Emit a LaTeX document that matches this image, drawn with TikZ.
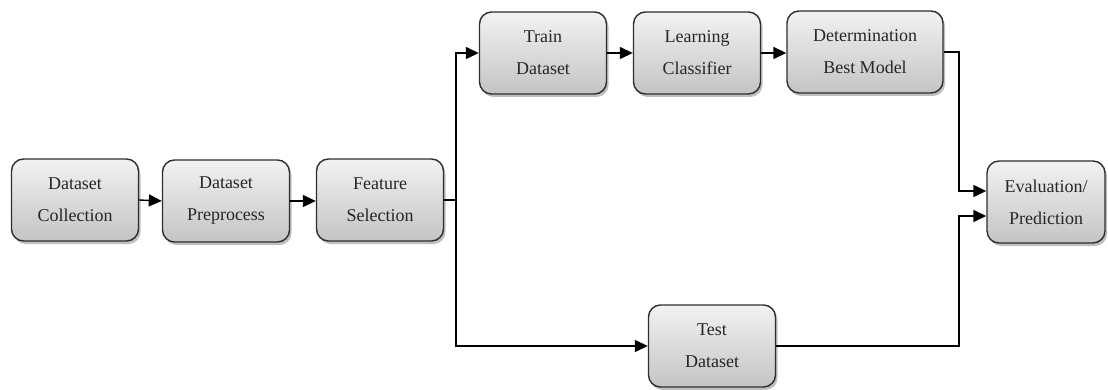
\documentclass[tikz,border=0pt]{standalone}
\usepackage{fontspec}
\setmainfont{Liberation Serif}
\usetikzlibrary{arrows.meta,shadows,calc}
\definecolor{boxedge}{HTML}{2E2E2E}
\definecolor{boxtop}{HTML}{F2F2F2}
\definecolor{boxbot}{HTML}{C4C4C4}
\tikzset{
  procbox/.style={draw=boxedge, line width=1.4pt, rounded corners=12pt,
    top color=boxtop, bottom color=boxbot,
    minimum width=127pt, minimum height=82pt, inner sep=2pt,
    align=center, font=\fontsize{18}{32}\selectfont, text=black!85,
    drop shadow={shadow xshift=2pt, shadow yshift=-3pt, opacity=0.25, fill=black}},
  arr/.style={line width=1.4pt, draw=black, -{Triangle[length=13pt,width=12pt]}},
  ln/.style={line width=1.4pt, draw=black}
}
\begin{document}
\begin{tikzpicture}[x=1pt,y=-1pt]
\useasboundingbox (0,0) rectangle (1108,390);
\node[procbox] (col) at (75,200) {Dataset\\Collection};
\node[procbox] (pre) at (226,201) {Dataset\\Preprocess};
\node[procbox] (fs) at (380,200) {Feature\\Selection};
\node[procbox] (train) at (543,53) {Train\\Dataset};
\node[procbox] (lc) at (697,53) {Learning\\Classifier};
\node[procbox, minimum width=156pt] (det) at (865,52) {Determination\\Best Model};
\node[procbox, minimum width=118pt] (eval) at (1046,202) {Evaluation/\\Prediction};
\node[procbox] (test) at (712,346) {Test\\Dataset};
\coordinate (split) at (456,200);
\coordinate (j1) at (959,191);
\coordinate (j2) at (959,216);
\coordinate (e1) at ($(eval.west)+(0,-11)$);
\coordinate (e2) at ($(eval.west)+(0,14)$);
\draw[arr] (col.east) -- (pre.west);
\draw[arr] (pre.east) -- (pre.east -| fs.west);
\draw[ln] (fs.east) -- (split);
\draw[arr] (split) |- (train.west);
\draw[arr] (split) |- (test.west);
\draw[arr] (train.east) -- (lc.west);
\draw[arr] (lc.east) -- (lc.east -| det.west);
\draw[arr] (det.east) -| (j1) -- (e1);
\draw[arr] (test.east) -| (j2) -- (e2);
\end{tikzpicture}
\end{document}
